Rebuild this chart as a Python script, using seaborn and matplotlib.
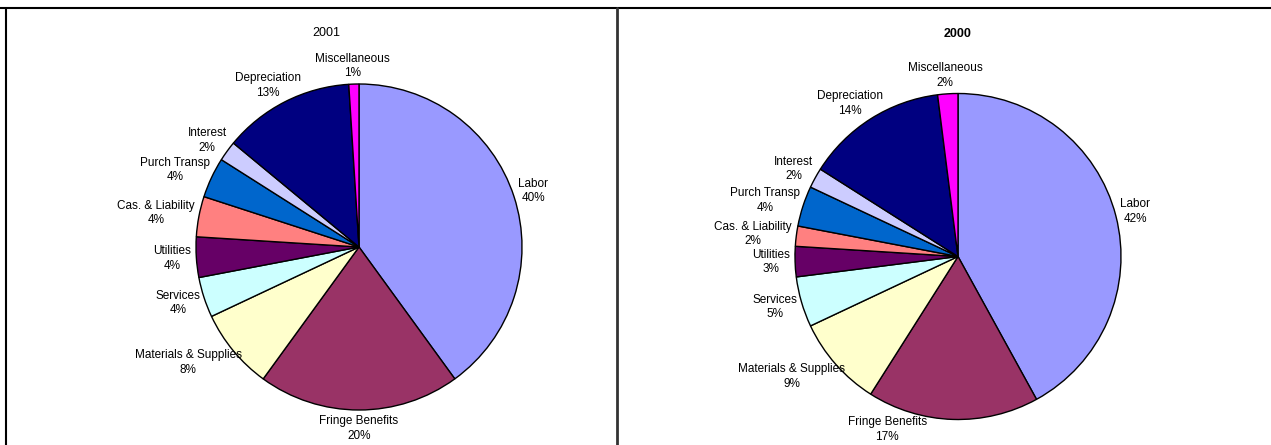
import numpy as np
import matplotlib
matplotlib.use("Agg")
import matplotlib.pyplot as plt
from matplotlib.lines import Line2D
import seaborn as sns

# Operating expense shares by category, clockwise from 12 o'clock
categories = ["Labor", "Fringe Benefits", "Materials & Supplies", "Services",
              "Utilities", "Cas. & Liability", "Purch Transp", "Interest",
              "Depreciation", "Miscellaneous"]
share_2001 = [40, 20, 8, 4, 4, 4, 4, 2, 13, 1]
share_2000 = [42, 17, 9, 5, 3, 2, 4, 2, 14, 2]
slice_colors = ["#9999FF", "#993366", "#FFFFCC", "#CCFFFF", "#660066",
                "#FF8080", "#0066CC", "#CCCCFF", "#000080", "#FF00FF"]

sns.set_style("white")
plt.rcParams["font.family"] = ["Liberation Sans", "DejaVu Sans"]
plt.rcParams["text.color"] = "black"

W, H, DPI = 1271, 445, 100
fig = plt.figure(figsize=(W / DPI, H / DPI), dpi=DPI)
palette = sns.color_palette(slice_colors)

R_PX = 163.0      # pie radius in pixels
HALF = 260.0      # half-size of each square axes in pixels
LABEL_PAD = 5.0   # gap between rim and label box, pixels
BOTTOM_PX = 443.0 # lowest pixel row a label may reach


def make_axes(cx, cy):
    left = (cx - HALF) / W
    bottom = (H - cy - HALF) / H
    ax = fig.add_axes([left, bottom, 2 * HALF / W, 2 * HALF / H])
    return ax


def draw_pie(ax, cy, values, title, title_xy, bold):
    wedges, _ = ax.pie(values, colors=palette, startangle=90, counterclock=False,
                       radius=1.0,
                       wedgeprops=dict(edgecolor="black", linewidth=1.0))
    lim = HALF / R_PX
    ax.set_xlim(-lim, lim)
    ax.set_ylim(-lim, lim)
    ax.set_aspect("equal")
    ax.axis("off")

    # lowest allowed label edge, in data units
    y_floor = -(BOTTOM_PX - cy) / R_PX

    renderer = fig.canvas.get_renderer()
    for w, cat, v in zip(wedges, categories, values):
        mid = np.deg2rad((w.theta1 + w.theta2) / 2.0)
        ux, uy = np.cos(mid), np.sin(mid)
        t = ax.text(0, 0, f"{cat}\n{v}%", ha="center", va="center",
                    fontsize=8.5, color="black", linespacing=1.28,
                    multialignment="center", clip_on=False)
        bb = t.get_window_extent(renderer)
        bw, bh = bb.width / R_PX, bb.height / R_PX
        r = 1.0 + LABEL_PAD / R_PX
        x = r * ux + ux * bw / 2.0
        y = r * uy + uy * bh / 2.0
        if y - bh / 2.0 < y_floor:
            # pull the label up and slide it sideways so it clears the rim
            y = y_floor + bh / 2.0
            top = y + bh / 2.0
            side = 1.0 if ux > 1e-9 else -1.0
            rim_x = np.sqrt(max(0.0, 1.0 - top ** 2))
            x = side * (rim_x + bw / 2.0)
        t.set_position((x, y))

    fig.text(title_xy[0] / W, 1 - title_xy[1] / H, title, ha="center", va="center",
             fontsize=9, color="black", fontweight="bold" if bold else "normal")


ax_left = make_axes(359, 247)
draw_pie(ax_left, 247, share_2001, "2001", (326, 33), bold=False)

ax_right = make_axes(958, 256.5)
draw_pie(ax_right, 256.5, share_2000, "2000", (958, 34), bold=True)

# Panel frame lines
frame = dict(color="black", linewidth=1.5, transform=fig.transFigure)
fig.add_artist(Line2D([0, 1], [1 - 7.5 / H, 1 - 7.5 / H], **frame))
fig.add_artist(Line2D([6 / W, 6 / W], [0, 1 - 7.5 / H], **frame))
fig.add_artist(Line2D([617 / W, 617 / W], [0, 1 - 7.5 / H],
                      color="#333333", linewidth=2.0, transform=fig.transFigure))

fig.savefig("out.png", dpi=DPI)
